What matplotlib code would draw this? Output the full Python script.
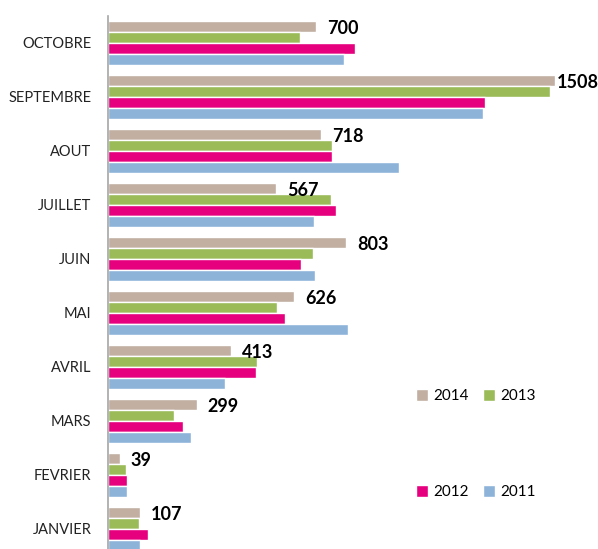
import matplotlib.pyplot as plt
import numpy as np

# data
mois = ["JANVIER", "FEVRIER", "MARS", "AVRIL", "MAI", "JUIN",
        "JUILLET", "AOUT", "SEPTEMBRE", "OCTOBRE"]
v2014 = [107, 39, 299, 413, 626, 803, 567, 718, 1508, 700]
v2013 = [106, 60, 221, 501, 568, 690, 753, 755, 1490, 648]
v2012 = [134, 65, 252, 498, 597, 649, 770, 756, 1271, 832]
v2011 = [109, 63, 279, 396, 808, 698, 693, 981, 1264, 797]

couleurs = {"2014": "#C2AFA2", "2013": "#9BBB59", "2012": "#E6007E", "2011": "#8DB3D9"}

plt.rcParams['font.family'] = ['Lato', 'DejaVu Sans']

fig = plt.figure(figsize=(5.98, 5.49), dpi=100)
ax = fig.add_axes([108 / 598, 1 - 556 / 549, 1 - 108 / 598, 540 / 549])

y = np.arange(len(mois))
h = 0.2
series = [("2014", v2014, 0.3), ("2013", v2013, 0.1), ("2012", v2012, -0.1), ("2011", v2011, -0.3)]
barres = {}
for nom, vals, off in series:
    barres[nom] = ax.barh(y + off, vals, height=h, color=couleurs[nom],
                          edgecolor="white", linewidth=1.0, label=nom)

# labels only for 2014 (the biggest one is squeezed against the bar, like excel does)
for yi, v in zip(y, v2014):
    dx = 1 if v == max(v2014) else 8
    ax.annotate(str(v), (v, yi + 0.3), xytext=(dx, -1.5), textcoords="offset points",
                ha="left", va="center", fontsize=13, fontweight="bold", color="black")

ax.set_ylim(-0.5, len(mois) - 0.5)
ax.set_xlim(0, 490 / 0.2967)
ax.set_yticks(y)
ax.set_yticklabels(mois, fontsize=10.5, color="#222222")
ax.tick_params(axis="y", length=0, pad=12)
ax.set_xticks([])
for s in ["top", "right", "bottom"]:
    ax.spines[s].set_visible(False)
ax.spines["left"].set_color("#A6A6A6")
ax.spines["left"].set_linewidth(1.2)

leg_kw = dict(loc="center left", ncol=2, frameon=False, fontsize=11,
              handlelength=0.8, handleheight=0.8, handletextpad=0.35,
              columnspacing=0.9, borderpad=0, borderaxespad=0)
leg1 = fig.legend([barres["2014"], barres["2013"]], ["2014", "2013"],
                  bbox_to_anchor=(416 / 598, 1 - 396 / 549), **leg_kw)
leg2 = fig.legend([barres["2012"], barres["2011"]], ["2012", "2011"],
                  bbox_to_anchor=(416 / 598, 1 - 492 / 549), **leg_kw)

fig.savefig("out.png", dpi=100)
